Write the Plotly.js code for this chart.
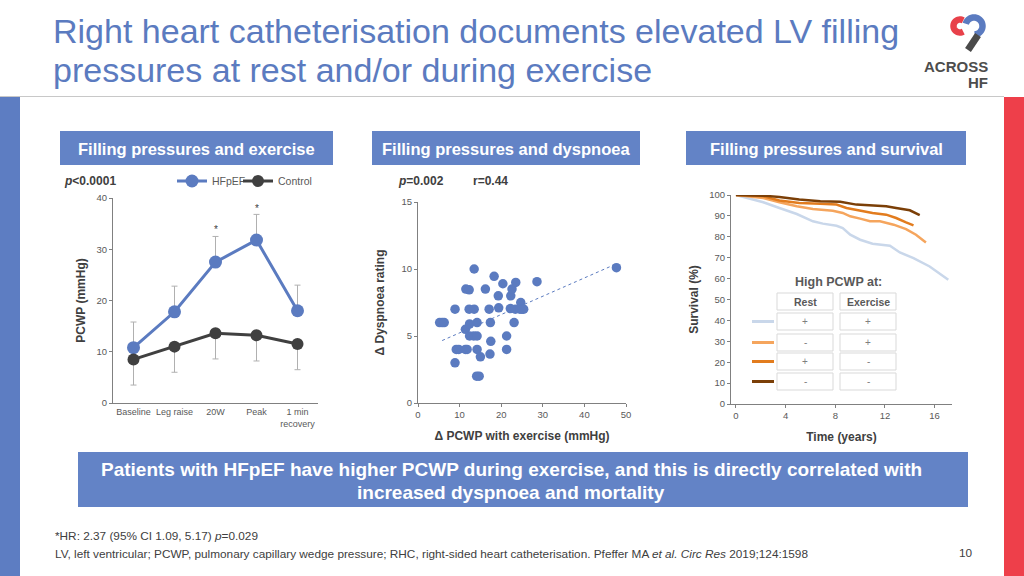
<!DOCTYPE html>
<html><head><meta charset="utf-8">
<script src="https://cdn.plot.ly/plotly-3.0.1.min.js"></script>
<style>html,body{margin:0;padding:0;background:#fff;}#chart{width:1024px;height:576px;}</style>
</head><body><div id="chart"></div>
<script>
// ---- Data: filling pressures and exercise ----
const stages = ['Baseline', 'Leg raise', '20W', 'Peak', '1 min<br>recovery'];
const hfpef = [10.8, 17.8, 27.5, 31.8, 18.0];
const hfpefErr = [5, 5, 5, 5, 5];
const control = [8.5, 11.0, 13.6, 13.2, 11.5];
const controlErr = [5, 5, 5, 5, 5];
const sigStages = ['20W', 'Peak'];
const sigLevel = [33.9, 37.9];

// ---- Data: filling pressures and dyspnoea ----
const dPcwp = [5.2, 5.8, 6.3, 8.9, 8.9, 9.2, 9.8, 11.4, 11.8, 11.4, 11.5, 12.3, 12.3, 13.5, 12.4, 12.4, 13.4, 14.2, 13.5, 14.2, 14.2, 14.1, 14.7, 15.0, 16.2, 17.1, 17.4, 17.5, 17.3, 18.3, 19.3, 19.4, 20.4, 21.3, 21.3, 22.3, 22.6, 22.2, 23.1, 23.5, 23.4, 24.7, 24.5, 25.0, 25.4, 28.6, 47.7];
const dDysp = [6, 6, 6, 7, 3, 4, 4, 4, 4, 5.5, 8.5, 8.45, 7, 7, 5.9, 5, 5, 5, 10, 6, 4, 2, 2, 3.45, 8.5, 7, 6, 4.6, 3.65, 9.45, 8, 7.1, 8.9, 5, 4, 8, 8.5, 7.05, 6, 9, 7, 7.5, 7, 7, 7, 9.05, 10.1];
const trendX = [5.8, 47.8];
const trendY = [4.66, 10.4];

// ---- Data: filling pressures and survival ----
const yrsA = [0, 2.2, 3.5, 4.9, 6.2, 7, 8.1, 8.6, 9.2, 10, 11, 12.4, 13.2, 14.3, 15.6, 17.1];
const survA = [100, 96.5, 93.8, 90.9, 87.4, 86.3, 85.3, 84.2, 81, 78.6, 76.7, 75.7, 72.5, 69.8, 65.8, 59.4];
const yrsB = [0, 2.2, 3.5, 4.9, 6.2, 7.8, 8.6, 9.2, 10, 10.8, 11.6, 12.7, 13.7, 14.5, 15.3];
const survB = [100, 98.6, 96.5, 94.6, 93.3, 92.5, 91.4, 89.8, 88.7, 87.5, 87.4, 85.8, 83.7, 81, 77.3];
const yrsC = [0, 2.2, 3.5, 5.1, 6.8, 8.1, 8.9, 10, 11, 12.1, 12.9, 13.7, 14.3];
const survC = [100, 99.4, 97.4, 96.2, 95.8, 95.4, 93.8, 92.5, 91.4, 90.6, 89, 86.9, 85.5];
const yrsD = [0, 2.2, 3.5, 5.1, 6.8, 8.4, 9.7, 11, 12.1, 12.9, 14, 14.8];
const survD = [100, 99.7, 99, 97.8, 97, 96.8, 95.4, 94.9, 94.6, 93.8, 92.7, 90.4];
const tableCols = ['Rest', 'Exercise'];
const restMarks = ['+', '-', '+', '-'];
const exMarks = ['+', '+', '-', '-'];

// ---- Styles ----
const BLUE = '#5b7bc0', DARK = '#404040', GREY = '#595959';
const curveColors = ['#c9d7ea', '#f5a55d', '#e27c1e', '#7b3f07'];
const FONT = 'Liberation Sans, Arial, sans-serif';
const P = x => x / 1024, Q = y => 1 - y / 576;

const traces = [
  {x: stages, y: hfpef, xaxis: 'x', yaxis: 'y', name: 'HFpEF', mode: 'lines+markers', legend: 'legend',
   line: {color: BLUE, width: 3}, marker: {color: BLUE, size: 13},
   error_y: {type: 'data', symmetric: false, array: hfpefErr, arrayminus: hfpefErr.map(() => 0), color: '#b0b0b0', thickness: 1, width: 3}},
  {x: stages, y: control, xaxis: 'x', yaxis: 'y', name: 'Control', mode: 'lines+markers', legend: 'legend2',
   line: {color: DARK, width: 3}, marker: {color: DARK, size: 12},
   error_y: {type: 'data', symmetric: false, array: controlErr.map(() => 0), arrayminus: controlErr, color: '#b0b0b0', thickness: 1, width: 3}},
  {x: trendX, y: trendY, xaxis: 'x2', yaxis: 'y2', mode: 'lines', showlegend: false,
   line: {color: BLUE, width: 1, dash: 'dot'}, hoverinfo: 'skip'},
  {x: dPcwp, y: dDysp, xaxis: 'x2', yaxis: 'y2', mode: 'markers', showlegend: false,
   marker: {color: BLUE, size: 9.5}},
  {x: yrsA, y: survA, xaxis: 'x3', yaxis: 'y3', mode: 'lines', showlegend: false, line: {color: curveColors[0], width: 2.5}},
  {x: yrsB, y: survB, xaxis: 'x3', yaxis: 'y3', mode: 'lines', showlegend: false, line: {color: curveColors[1], width: 2.5}},
  {x: yrsC, y: survC, xaxis: 'x3', yaxis: 'y3', mode: 'lines', showlegend: false, line: {color: curveColors[2], width: 2.5}},
  {x: yrsD, y: survD, xaxis: 'x3', yaxis: 'y3', mode: 'lines', showlegend: false, line: {color: curveColors[3], width: 2.5}}
];

const axBase = {showgrid: false, zeroline: false, showline: true, linecolor: '#808080', linewidth: 1,
  tickfont: {family: FONT, size: 9.5, color: GREY}, ticks: 'outside', ticklen: 3, tickcolor: '#808080'};
const titleFont = {family: FONT, size: 12, color: DARK};

const shapes = [];
const annotations = [];
function rect(x0, y0, x1, y1, fill, lineColor) {
  shapes.push({type: 'rect', xref: 'paper', yref: 'paper', x0: P(x0), x1: P(x1), y0: Q(y1), y1: Q(y0),
    fillcolor: fill, line: {width: lineColor ? 1 : 0, color: lineColor || fill}, layer: 'above'});
}
function text(x, y, t, size, color, opts) {
  annotations.push(Object.assign({xref: 'paper', yref: 'paper', x: P(x), y: Q(y), text: t, showarrow: false,
    xanchor: 'center', yanchor: 'middle', font: {family: FONT, size: size, color: color}}, opts || {}));
}
function line(x0, y0, x1, y1, color, w) {
  shapes.push({type: 'line', xref: 'paper', yref: 'paper', x0: P(x0), x1: P(x1), y0: Q(y0), y1: Q(y1), line: {color: color, width: w}, layer: 'above'});
}
function arc(cx, cy, r, a0, a1, color, w) {
  let d = '';
  const n = 30;
  for (let i = 0; i <= n; i++) {
    const a = (a0 + (a1 - a0) * i / n) * Math.PI / 180;
    d += (i ? ' L ' : 'M ') + P(cx + r * Math.cos(a)).toFixed(5) + ' ' + Q(cy + r * Math.sin(a)).toFixed(5);
  }
  shapes.push({type: 'path', xref: 'paper', yref: 'paper', path: d, line: {color: color, width: w}, layer: 'above'});
}

// slide frame
line(0, 96.5, 1004, 96.5, '#c8c8c8', 1);
rect(0, 97, 20, 576, '#5d7dc2');
rect(1004, 97, 1024, 576, '#ee3f4a');
// header boxes
const HEADBLUE = '#6383c6';
rect(60, 131, 333, 165, HEADBLUE);
rect(372, 131, 640, 165, HEADBLUE);
rect(686, 131, 966, 165, HEADBLUE);
text(196.5, 148.5, '<b>Filling pressures and exercise</b>', 16.5, '#ffffff');
text(506, 148.5, '<b>Filling pressures and dyspnoea</b>', 16.5, '#ffffff');
text(826, 148.5, '<b>Filling pressures and survival</b>', 16.5, '#ffffff');
// bottom box
rect(78, 452, 968, 507, HEADBLUE);
text(511, 469, '<b>Patients with HFpEF have higher PCWP during exercise, and this is directly correlated with</b>', 19, '#ffffff');
text(511, 492, '<b>increased dyspnoea and mortality</b>', 19, '#ffffff');
// title
text(51, 31, 'Right heart catheterisation documents elevated LV filling', 34, BLUE, {xanchor: 'left'});
text(51, 70, 'pressures at rest and/or during exercise', 34, BLUE, {xanchor: 'left'});
// footer
text(53, 536, '*HR: 2.37 (95% CI 1.09, 5.17) <i>p</i>=0.029', 11.8, DARK, {xanchor: 'left'});
text(53, 554, 'LV, left ventricular; PCWP, pulmonary capillary wedge pressure; RHC, right-sided heart catheterisation. Pfeffer MA <i>et al. Circ Res</i> 2019;124:1598', 11.8, DARK, {xanchor: 'left'});
text(966, 553, '10', 11.8, DARK);
// p-values
text(62, 181, '<b><i>p</i>&lt;0.0001</b>', 12, DARK, {xanchor: 'left'});
text(396, 181, '<b><i>p</i>=0.002</b>', 12, DARK, {xanchor: 'left'});
text(471, 181, '<b>r=0.44</b>', 12, DARK, {xanchor: 'left'});
// significance markers
sigStages.forEach((s, i) => annotations.push({xref: 'x', yref: 'y', x: s, y: sigLevel[i], text: '*', showarrow: false,
  font: {family: FONT, size: 10, color: DARK}}));
// survival table
text(838, 282, '<b>High PCWP at:</b>', 12.5, GREY);
const colX = [[777, 833], [840, 896]];
colX.forEach((c, j) => { rect(c[0], 293, c[1], 310, '#ffffff', '#d9d9d9'); text((c[0] + c[1]) / 2, 301.5, '<b>' + tableCols[j] + '</b>', 10.5, GREY); });
const rowY = [[313, 330], [334, 351], [353, 370], [373, 390]];
rowY.forEach((r, i) => {
  rect(colX[0][0], r[0], colX[0][1], r[1], '#ffffff', '#d9d9d9');
  rect(colX[1][0], r[0], colX[1][1], r[1], '#ffffff', '#d9d9d9');
  text((colX[0][0] + colX[0][1]) / 2, (r[0] + r[1]) / 2, restMarks[i], 10, '#7f7f7f');
  text((colX[1][0] + colX[1][1]) / 2, (r[0] + r[1]) / 2, exMarks[i], 10, '#7f7f7f');
  line(752, (r[0] + r[1]) / 2, 774, (r[0] + r[1]) / 2, curveColors[i], 3);
});
// logo
arc(974, 26, 8.5, 195, 445, BLUE, 6.5);
line(978, 35, 968, 50, '#4a4a4a', 7);
arc(960, 26, 6.5, 300, 60, '#e8414a', 6.5);
text(990, 66, '<b>ACROSS</b>', 15, '#4d4d4d', {xanchor: 'right'});
text(990, 82, '<b>HF</b>', 15, '#4d4d4d', {xanchor: 'right'});

const legBase = {orientation: 'h', xanchor: 'left', yanchor: 'middle', y: Q(181),
  font: {family: FONT, size: 10.5, color: GREY}, bgcolor: 'rgba(0,0,0,0)', itemwidth: 30};
const layout = {
  width: 1024, height: 576, margin: {l: 0, r: 0, t: 0, b: 0},
  paper_bgcolor: '#ffffff', plot_bgcolor: 'rgba(0,0,0,0)',
  font: {family: FONT, color: GREY},
  showlegend: true,
  legend: Object.assign({}, legBase, {x: P(172)}),
  legend2: Object.assign({}, legBase, {x: P(238)}),
  xaxis: Object.assign({}, axBase, {domain: [P(113), P(318)], anchor: 'y', type: 'category', range: [-0.5, 4.5], ticks: '',
    tickfont: {family: FONT, size: 9, color: GREY}}),
  yaxis: Object.assign({}, axBase, {domain: [Q(403), Q(198)], anchor: 'x', range: [0, 40], dtick: 10,
    title: {text: '<b>PCWP (mmHg)</b>', font: titleFont, standoff: 8}}),
  xaxis2: Object.assign({}, axBase, {domain: [P(418), P(626)], anchor: 'y2', range: [0, 50], dtick: 10,
    title: {text: '<b>\u0394 PCWP with exercise (mmHg)</b>', font: titleFont, standoff: 12}}),
  yaxis2: Object.assign({}, axBase, {domain: [Q(403), Q(202)], anchor: 'x2', range: [0, 15], dtick: 5,
    title: {text: '<b>\u0394 Dyspnoea rating</b>', font: titleFont, standoff: 14}}),
  xaxis3: Object.assign({}, axBase, {domain: [P(731), P(952)], anchor: 'y3', range: [-0.4, 17.4], tickvals: [0, 4, 8, 12, 16],
    title: {text: '<b>Time (years)</b>', font: titleFont, standoff: 12}}),
  yaxis3: Object.assign({}, axBase, {domain: [Q(404), Q(195)], anchor: 'x3', range: [0, 100], dtick: 10,
    title: {text: '<b>Survival (%)</b>', font: titleFont, standoff: 8}}),
  shapes: shapes, annotations: annotations
};
Plotly.newPlot('chart', traces, layout, {displayModeBar: false, staticPlot: true});
</script></body></html>
